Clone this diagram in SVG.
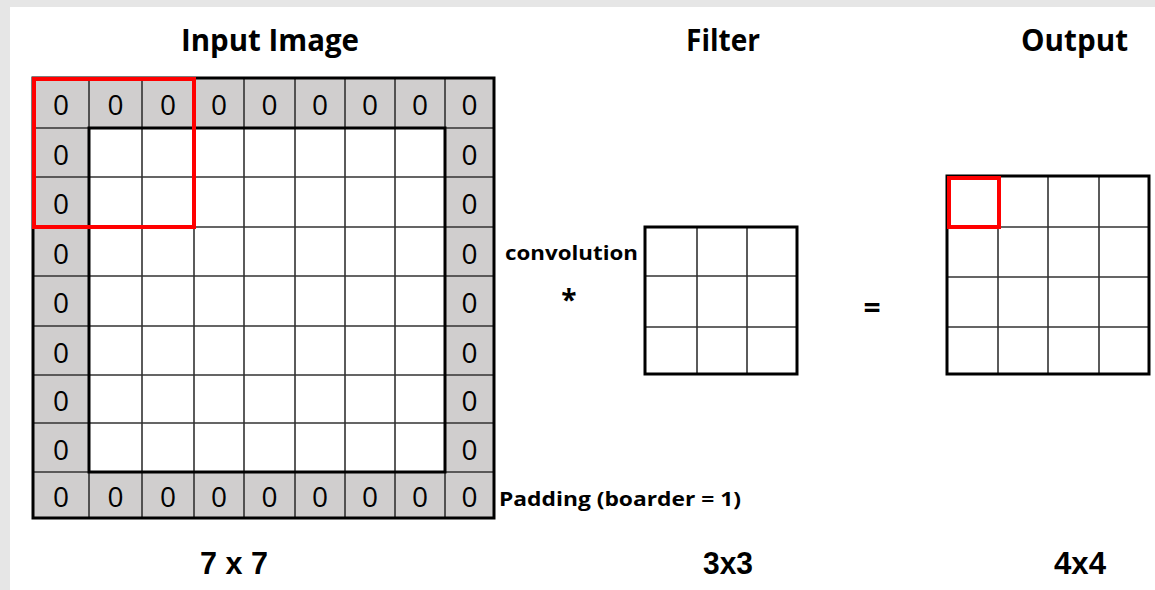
<svg xmlns="http://www.w3.org/2000/svg" width="1155" height="590" viewBox="0 0 1155 590">
<style>
.title{font-family:"Open Sans","Liberation Sans",sans-serif;font-weight:bold;font-size:30px;fill:#000}
.zero{font-family:"Open Sans","Liberation Sans",sans-serif;font-size:28px;fill:#000;text-anchor:middle}
.lbl{font-family:"Open Sans","Liberation Sans",sans-serif;font-weight:bold;fill:#000}
.dim{font-family:"Liberation Sans",Arial,sans-serif;font-weight:bold;font-size:32px;fill:#000}
.thin{stroke:#333;stroke-width:1.6;fill:none}
.thick{stroke:#000;stroke-width:3;fill:none}
.red{stroke:#ff0000;stroke-width:4;fill:none}
</style>
<rect x="0" y="0" width="1155" height="590" fill="#e6e6e6"/>
<rect x="10" y="7" width="1145" height="583" fill="#ffffff"/>

<g id="titles">
<text class="title" x="181" y="51" textLength="178" lengthAdjust="spacingAndGlyphs">Input Image</text>
<text class="title" x="686" y="51" textLength="74" lengthAdjust="spacingAndGlyphs">Filter</text>
<text class="title" x="1021" y="51" textLength="107" lengthAdjust="spacingAndGlyphs">Output</text>
</g>

<g id="input-image">
<rect x="33" y="78" width="461" height="440" fill="#d0cece"/>
<rect x="89" y="128" width="356" height="344" fill="#ffffff"/>
<path class="thin" d="M89 78V518M142 78V518M194 78V518M244 78V518M295 78V518M345 78V518M395 78V518M445 78V518M33 128H494M33 177H494M33 227H494M33 276H494M33 326H494M33 375H494M33 423H494M33 472H494"/>
<rect class="thick" x="89" y="128" width="356" height="344"/>
<rect class="thick" x="33" y="78" width="461" height="440"/>
<g>
<text class="zero" x="61" y="115">0</text>
<text class="zero" x="115.5" y="115">0</text>
<text class="zero" x="168" y="115">0</text>
<text class="zero" x="219" y="115">0</text>
<text class="zero" x="269.5" y="115">0</text>
<text class="zero" x="320" y="115">0</text>
<text class="zero" x="370" y="115">0</text>
<text class="zero" x="420" y="115">0</text>
<text class="zero" x="469.5" y="115">0</text>
<text class="zero" x="61" y="507">0</text>
<text class="zero" x="115.5" y="507">0</text>
<text class="zero" x="168" y="507">0</text>
<text class="zero" x="219" y="507">0</text>
<text class="zero" x="269.5" y="507">0</text>
<text class="zero" x="320" y="507">0</text>
<text class="zero" x="370" y="507">0</text>
<text class="zero" x="420" y="507">0</text>
<text class="zero" x="469.5" y="507">0</text>
<text class="zero" x="61" y="164.5">0</text>
<text class="zero" x="61" y="214">0</text>
<text class="zero" x="61" y="263.5">0</text>
<text class="zero" x="61" y="313">0</text>
<text class="zero" x="61" y="362.5">0</text>
<text class="zero" x="61" y="411">0</text>
<text class="zero" x="61" y="459.5">0</text>
<text class="zero" x="469.5" y="164.5">0</text>
<text class="zero" x="469.5" y="214">0</text>
<text class="zero" x="469.5" y="263.5">0</text>
<text class="zero" x="469.5" y="313">0</text>
<text class="zero" x="469.5" y="362.5">0</text>
<text class="zero" x="469.5" y="411">0</text>
<text class="zero" x="469.5" y="459.5">0</text>
</g>
<rect class="red" x="34" y="79" width="160" height="148"/>
</g>

<g id="filter">
<rect x="645" y="227" width="152" height="147" fill="#ffffff"/>
<path class="thin" d="M697 227V374M747 227V374M645 276H797M645 327H797"/>
<rect class="thick" x="645" y="227" width="152" height="147"/>
</g>

<g id="output">
<rect x="947" y="176" width="202" height="198" fill="#ffffff"/>
<path class="thin" d="M998 176V374M1048 176V374M1099 176V374M947 227H1149M947 277H1149M947 327H1149"/>
<rect class="thick" x="947" y="176" width="202" height="198"/>
<rect class="red" x="949" y="178" width="50" height="49"/>
</g>

<g id="labels">
<text class="lbl" x="505" y="260" font-size="19" textLength="133" lengthAdjust="spacingAndGlyphs">convolution</text>
<text class="lbl" x="569" y="310" font-size="28" text-anchor="middle">*</text>
<text class="lbl" x="872" y="318" font-size="30" text-anchor="middle">=</text>
<text class="lbl" x="499" y="506" font-size="20" textLength="242" lengthAdjust="spacingAndGlyphs">Padding (boarder = 1)</text>
<text class="dim" x="200" y="574" textLength="68" lengthAdjust="spacingAndGlyphs">7 x 7</text>
<text class="dim" x="703" y="574" textLength="50" lengthAdjust="spacingAndGlyphs">3x3</text>
<text class="dim" x="1054" y="574" textLength="52" lengthAdjust="spacingAndGlyphs">4x4</text>
</g>
</svg>
